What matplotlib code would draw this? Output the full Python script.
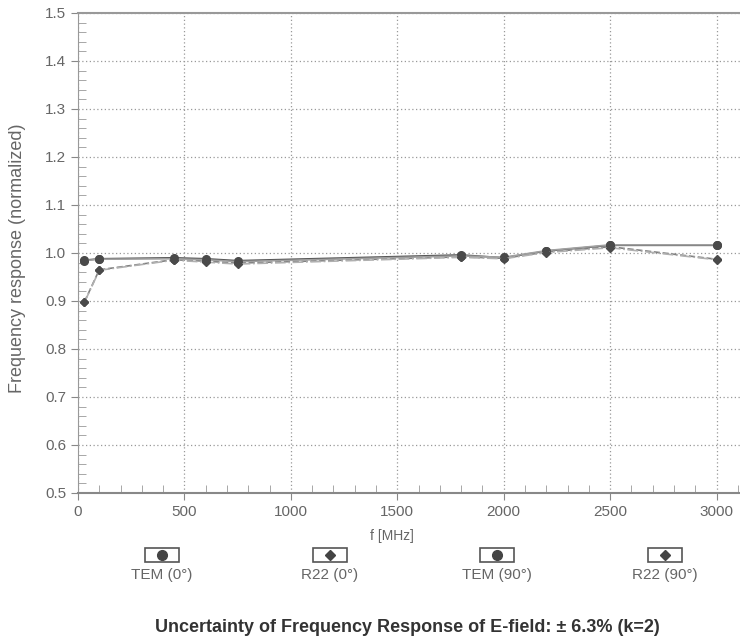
import matplotlib
matplotlib.use("Agg")
import matplotlib.pyplot as plt
from matplotlib.patches import Rectangle
from matplotlib.ticker import MultipleLocator, FormatStrFormatter

plt.rcParams.update({
    "font.family": ["Liberation Sans", "DejaVu Sans"],
    "font.size": 11,
})

freqs  = [30, 100, 450, 600, 750, 1800, 2000, 2200, 2500, 3000]
tem_0  = [0.985, 0.988, 0.990, 0.988, 0.984, 0.996, 0.990, 1.004, 1.016, 1.016]
r22_0  = [0.898, 0.965, 0.986, 0.983, 0.979, 0.992, 0.989, 1.002, 1.013, 0.987]
tem_90 = [0.984, 0.987, 0.988, 0.986, 0.982, 0.994, 0.991, 1.005, 1.017, 1.017]
r22_90 = [0.897, 0.964, 0.985, 0.981, 0.977, 0.991, 0.988, 1.001, 1.011, 0.986]

labels  = ["TEM (0°)", "R22 (0°)", "TEM (90°)", "R22 (90°)"]
markers = ["o", "D", "o", "D"]
styles  = ["-", "--", "-", "-."]
colors  = ["#555555", "#808080", "#a0a0a0", "#b0b0b0"]
series  = [tem_0, r22_0, tem_90, r22_90]

fig = plt.figure(figsize=(7.4, 6.4), dpi=100)
ax = fig.add_axes([78 / 740, 1 - 493 / 640, 1 - 78 / 740, 480 / 640])

for vals, mk, ls, col in zip(series, markers, styles, colors):
    ax.plot(freqs, vals, ls=ls, color=col, lw=1.2, marker=mk,
            ms=5.5 if mk == "o" else 4.5, mfc="#4a4a4a", mec="#4a4a4a", zorder=3)

ax.set_xlim(0, 3110)
ax.set_ylim(0.5, 1.5)
ax.xaxis.set_major_locator(MultipleLocator(500))
ax.xaxis.set_minor_locator(MultipleLocator(100))
ax.yaxis.set_major_locator(MultipleLocator(0.1))
ax.yaxis.set_minor_locator(MultipleLocator(0.02))
ax.yaxis.set_major_formatter(FormatStrFormatter("%.1f"))
ax.tick_params(which="major", direction="out", length=5, color="#888888",
               labelcolor="#666666", labelsize=11)
ax.tick_params(which="minor", direction="in", length=6, color="#999999")
ax.grid(True, which="major", ls=(0, (1, 2)), color="#999999", lw=0.9)

ax.spines["right"].set_visible(False)
ax.spines["top"].set_color("#999999")
ax.spines["top"].set_linewidth(1.5)
ax.spines["left"].set_color("#999999")
ax.spines["bottom"].set_color("#888888")
ax.spines["bottom"].set_linewidth(1.5)

ax.set_xlabel("f [MHz]", color="#666666", fontsize=10)
ax.xaxis.set_label_coords(1476 / 3110, -0.075)
ax.set_ylabel("Frequency response (normalized)", color="#666666", fontsize=13)
ax.yaxis.set_label_coords(-0.078, 0.49)

# custom legend row below the axes
lax = fig.add_axes([0, 0, 1, 1])
lax.set_xlim(0, 740)
lax.set_ylim(640, 0)
lax.axis("off")
centers = [162, 330, 497, 665]
for cx, lab, mk in zip(centers, labels, markers):
    lax.add_patch(Rectangle((cx - 17, 548), 34, 14, fill=False,
                            edgecolor="#555555", lw=1.2))
    lax.plot(cx, 555, marker=mk, ms=7 if mk == "o" else 5, color="#444444")
    lax.text(cx, 575, lab, ha="center", va="center", color="#666666",
             fontsize=11)

lax.text(407, 627, "Uncertainty of Frequency Response of E-field: ± 6.3% (k=2)",
         ha="center", va="center", fontsize=13, fontweight="bold",
         color="#333333")

fig.savefig("out.png", dpi=100)
